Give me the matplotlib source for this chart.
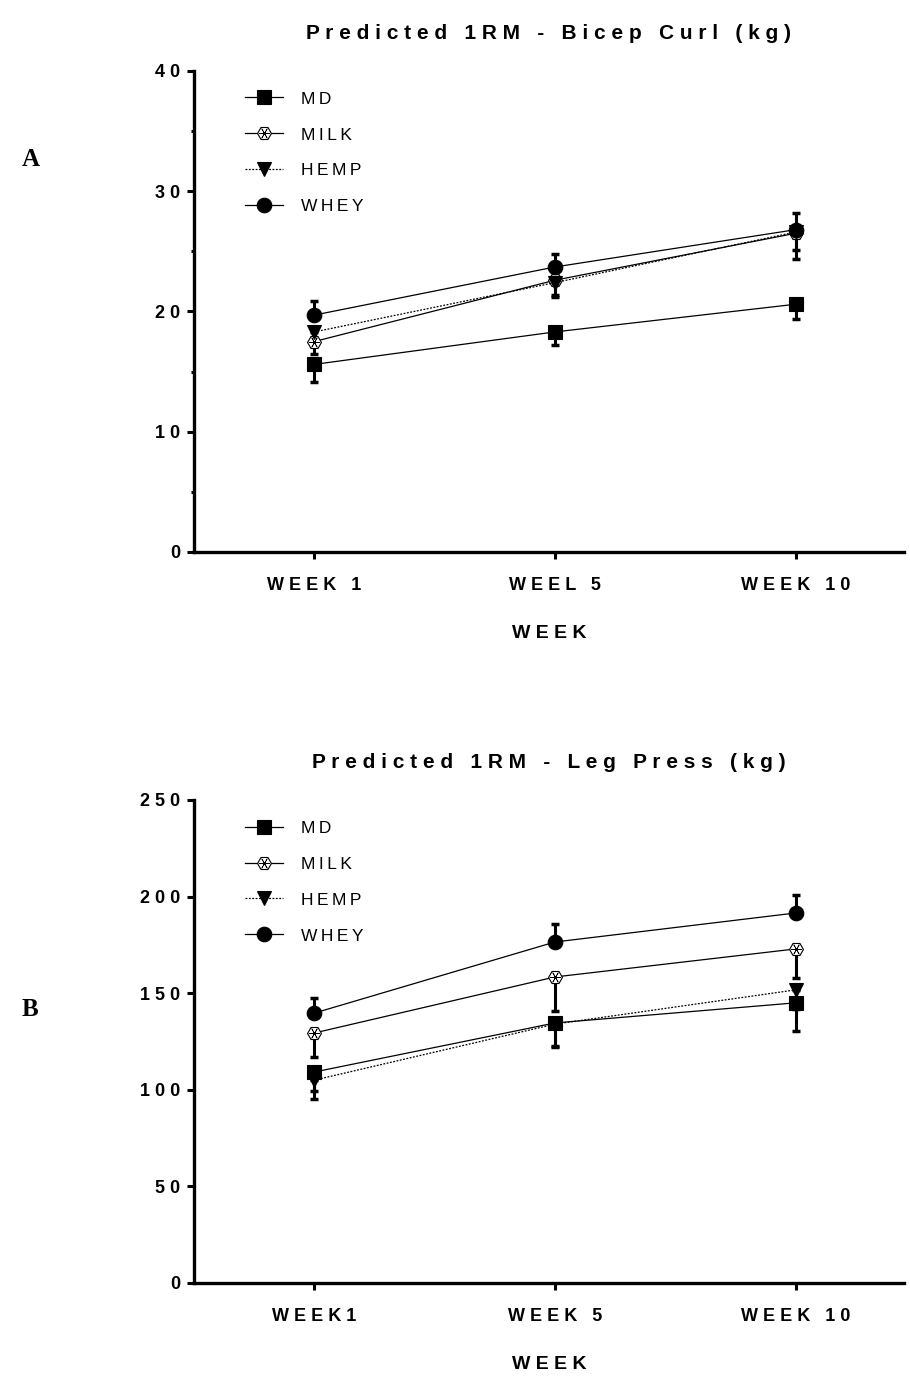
import matplotlib.pyplot as plt
from matplotlib.ticker import MultipleLocator

# weeks on x
weeks_a = ["WEEK 1", "WEEL 5", "WEEK 10"]
weeks_b = ["WEEK1", "WEEK 5", "WEEK 10"]
groups = ["MD", "MILK", "HEMP", "WHEY"]

# panel A - bicep curl (kg), mean and error
bicep_md = [15.6, 18.3, 20.6]
bicep_milk = [17.5, 22.6, 26.5]
bicep_hemp = [18.3, 22.4, 26.6]
bicep_whey = [19.7, 23.7, 26.8]
bicep_md_err = [1.5, 1.1, 1.2]
bicep_milk_err = [1.0, 1.2, 2.1]
bicep_hemp_err = [1.2, 1.2, 1.5]
bicep_whey_err = [1.2, 1.1, 1.4]

# panel B - leg press (kg)
leg_md = [109.2, 134.6, 145.0]
leg_milk = [129.4, 158.4, 172.9]
leg_hemp = [105.0, 134.0, 151.7]
leg_whey = [139.7, 176.5, 191.5]
leg_md_err = [10.0, 12.0, 14.5]
leg_milk_err = [12.4, 17.4, 15.0]
leg_hemp_err = [10.0, 12.0, 10.0]
leg_whey_err = [7.8, 9.5, 9.3]

FONT = ["Liberation Sans", "DejaVu Sans"]
plt.rcParams["font.family"] = FONT


def spaced(s, sep="\u2009"):
    return sep.join(s)


STYLES = {
    "MD": dict(marker="s", ms=10.5, mfc="black", ls="-", err_dir="down"),
    "MILK": dict(marker="H", ms=10, mfc="white", ls="-", err_dir="down"),
    "HEMP": dict(marker="v", ms=10.5, mfc="black", ls=(0, (1.5, 1.2)), err_dir="down"),
    "WHEY": dict(marker="o", ms=10.5, mfc="black", ls="-", err_dir="up"),
}


def draw_panel(ax, series, errors, labels, title, ymax, ystep, minor):
    x = list(range(len(labels)))
    handles = []
    for name in groups:
        st = STYLES[name]
        y = series[name]
        e = errors[name]
        if st["err_dir"] == "up":
            yerr = [[0] * len(e), e]
        else:
            yerr = [e, [0] * len(e)]
        ax.errorbar(x, y, yerr=yerr, fmt="none", ecolor="black",
                    elinewidth=2.2, capsize=3, capthick=2.5, zorder=2)
        ln, = ax.plot(x, y, color="black", lw=0.9, ls=st["ls"],
                      marker=st["marker"], ms=st["ms"], mfc=st["mfc"],
                      mec="black", mew=0.8, zorder=3)
        if name == "MILK":
            star, = ax.plot(x, y, ls="none", marker=(6, 2, 30),
                            ms=st["ms"] * 0.8, mec="black", mew=0.5,
                            zorder=4)
            handles.append((ln, star))
        else:
            handles.append(ln)

    ax.set_xlim(-0.5, 2.45)
    ax.set_ylim(0, ymax)
    ax.set_xticks(x)
    ax.set_xticklabels([spaced(l, " ") for l in labels], fontsize=13,
                       fontweight="bold")
    ax.yaxis.set_major_locator(MultipleLocator(ystep))
    ax.set_yticklabels([spaced(str(int(v)), " ") for v in ax.get_yticks()],
                       fontsize=13, fontweight="bold")
    if minor:
        ax.yaxis.set_minor_locator(MultipleLocator(minor))
    ax.tick_params(axis="both", which="major", width=2.2, length=5,
                   direction="out", pad=5)
    ax.tick_params(axis="y", which="minor", width=2.2, length=2.5)
    ax.tick_params(axis="x", pad=13)
    for side in ["top", "right"]:
        ax.spines[side].set_visible(False)
    for side in ["left", "bottom"]:
        ax.spines[side].set_linewidth(2.4)
    ax.set_xlabel(spaced("WEEK", " "), fontsize=14,
                  fontweight="bold", labelpad=22)
    ax.set_title(spaced(title, " "), fontsize=15, fontweight="bold", pad=23)
    ax.legend(handles=handles, labels=[spaced(g, "\u2009") for g in groups],
              loc="upper left", frameon=False,
              bbox_to_anchor=(0.05, 0.99), fontsize=12.5,
              handlelength=2.2, labelspacing=1.2, handletextpad=1.0)


fig = plt.figure(figsize=(9.1, 13.8), dpi=100)
ax1 = fig.add_axes([0.2132, 0.6, 0.78, 0.3486])
ax2 = fig.add_axes([0.2132, 0.0703, 0.78, 0.350])

draw_panel(ax1,
           {"MD": bicep_md, "MILK": bicep_milk, "HEMP": bicep_hemp, "WHEY": bicep_whey},
           {"MD": bicep_md_err, "MILK": bicep_milk_err, "HEMP": bicep_hemp_err, "WHEY": bicep_whey_err},
           weeks_a, "Predicted 1RM - Bicep Curl (kg)", 40, 10, 5)
draw_panel(ax2,
           {"MD": leg_md, "MILK": leg_milk, "HEMP": leg_hemp, "WHEY": leg_whey},
           {"MD": leg_md_err, "MILK": leg_milk_err, "HEMP": leg_hemp_err, "WHEY": leg_whey_err},
           weeks_b, "Predicted 1RM - Leg Press (kg)", 250, 50, None)

fig.text(0.024, 1 - 160 / 1380, "A", fontsize=18, fontweight="bold",
         family="Liberation Serif", va="center")
fig.text(0.024, 1 - 1010 / 1380, "B", fontsize=18, fontweight="bold",
         family="Liberation Serif", va="center")

fig.savefig("out.png", dpi=100)
